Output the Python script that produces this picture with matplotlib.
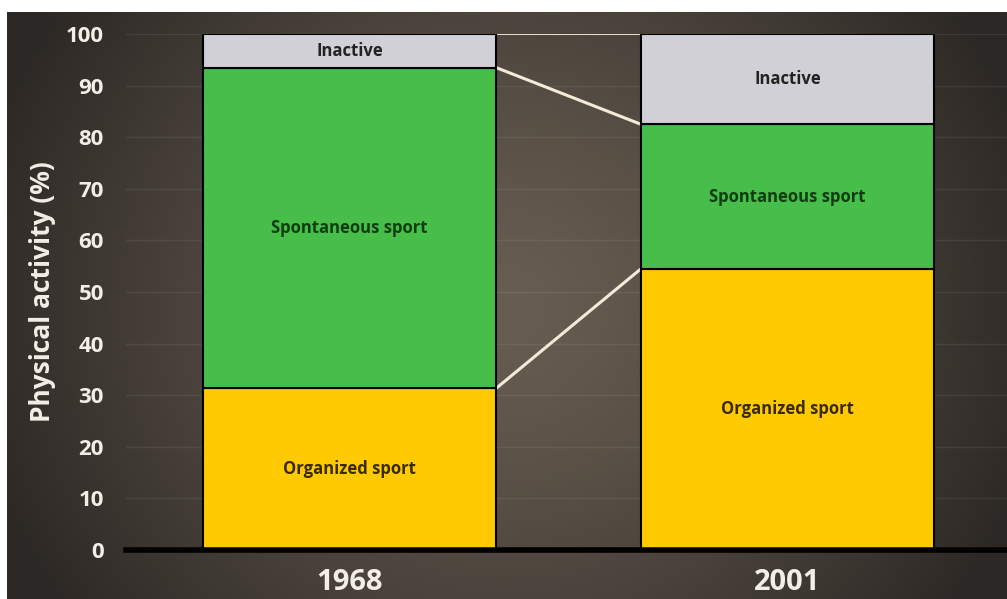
"""Stacked bars of physical activity shares, 1968 vs 2001, with connector lines."""

import matplotlib
matplotlib.use("Agg")
import matplotlib.pyplot as plt
import numpy as np

years = ["1968", "2001"]
categories = ["Organized sport", "Spontaneous sport", "Inactive"]
organized = [31.3, 54.5]
spontaneous = [62.2, 28.0]
inactive = [6.5, 17.5]

COLORS = ["#ffcb00", "#47bd4a", "#d0d0d6"]
TEXT_COLORS = ["#3b2a05", "#0f3d10", "#222222"]
FONT = "Open Sans"
BAR_W = 0.669

W, H = 1007, 599
fig = plt.figure(figsize=(W / 100, H / 100), dpi=100, facecolor="white")

# radial-ish dark brown backdrop, lighter toward the middle
bg = fig.add_axes([7 / W, 0, 1 - 7 / W, (H - 12) / H])
yy, xx = np.mgrid[0:1:300j, 0:1:500j]
r = np.sqrt(((xx - 0.5) / 0.55) ** 2 + ((yy - 0.5) / 0.9) ** 2)
t = np.clip(r, 0, 1) ** 1.3
inner = np.array([0x68, 0x5d, 0x51]) / 255
outer = np.array([0x2c, 0x28, 0x25]) / 255
img = inner[None, None, :] * (1 - t[..., None]) + outer[None, None, :] * t[..., None]
bg.imshow(img, aspect="auto", extent=[0, 1, 0, 1])
bg.set_axis_off()

ax = fig.add_axes([126 / W, (H - 550) / H, 1 - 126 / W, (550 - 34) / H])
ax.patch.set_alpha(0)
x = np.arange(len(years))

series = [organized, spontaneous, inactive]
bottoms = np.zeros(len(years))
tops = []
for vals, col, tcol, name in zip(series, COLORS, TEXT_COLORS, categories):
    vals = np.array(vals)
    ax.bar(x, vals, BAR_W, bottom=bottoms, color=col, edgecolor="black",
           linewidth=1.5, zorder=3)
    for xi, b, v in zip(x, bottoms, vals):
        ax.text(xi, b + v / 2, name, ha="center", va="center",
                fontsize=12, fontweight="bold", color=tcol, family=FONT, zorder=4)
    bottoms = bottoms + vals
    tops.append(bottoms.copy())

# connector lines between the segment boundaries
x0, x1 = x[0] + BAR_W / 2, x[1] - BAR_W / 2
for i, tp in enumerate(tops):
    lw = 1.3 if i == len(tops) - 1 else 2.2
    ax.plot([x0, x1], [tp[0], tp[1]], color="#f3ead8", lw=lw, zorder=2,
            solid_capstyle="butt")

ax.set_xlim(-0.51, 1.501)
ax.set_ylim(0, 100)
ax.set_yticks(np.arange(0, 101, 10))
ax.set_xticks(x)
ax.set_xticklabels(years)
ax.grid(axis="y", color="white", alpha=0.07, lw=1, zorder=0)
ax.set_axisbelow(True)
for side in ["top", "right", "left"]:
    ax.spines[side].set_visible(False)
ax.spines["bottom"].set_linewidth(4)
ax.spines["bottom"].set_color("black")
ax.spines["bottom"].set_zorder(5)
ax.tick_params(axis="both", length=0)
ax.tick_params(axis="y", pad=16)
ax.tick_params(axis="x", pad=13)
for lab in ax.get_yticklabels():
    lab.set(fontsize=16, fontweight="bold", color="#f4efe6", family=FONT)
for lab in ax.get_xticklabels():
    lab.set(fontsize=21, fontweight="bold", color="#f4efe6", family=FONT)
ax.set_ylabel("Physical activity (%)", fontsize=19, fontweight="bold",
              color="#f4efe6", family=FONT, labelpad=7)

fig.savefig("out.png", dpi=100, facecolor="white")
